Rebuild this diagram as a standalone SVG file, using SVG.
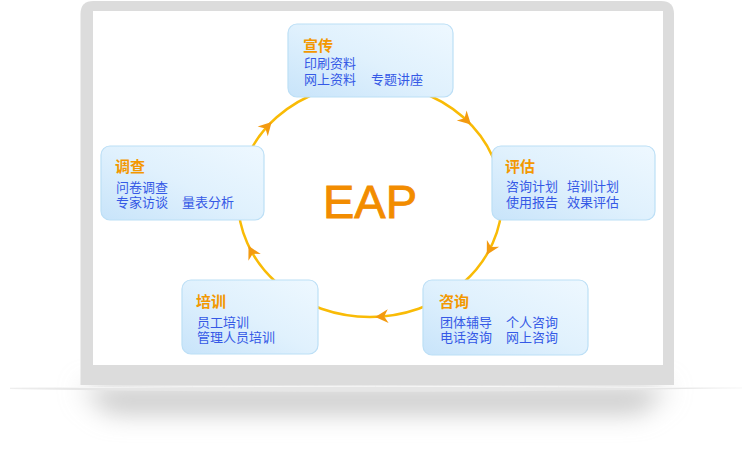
<svg xmlns="http://www.w3.org/2000/svg" width="751" height="462" viewBox="0 0 751 462">
<style>
.box{fill:url(#boxg);stroke:#bcdff6;stroke-width:1.2}
.t{font-family:"Noto Sans CJK SC","Noto Sans",sans-serif;font-size:15px;font-weight:bold;fill:#f39800}
.b{font-family:"Noto Sans CJK SC","Noto Sans",sans-serif;font-size:13px;fill:#3559e6}
.ring{fill:none;stroke:#f9bb06;stroke-width:2.5}
.ah{fill:#f39a10}
</style>
<defs>
<linearGradient id="boxg" x1="1" y1="0" x2="0" y2="1">
<stop offset="0" stop-color="#eef8ff"/>
<stop offset="0.5" stop-color="#e0f1fd"/>
<stop offset="1" stop-color="#c8e4fa"/>
</linearGradient>
<filter id="blur" x="-20%" y="-150%" width="140%" height="400%">
<feGaussianBlur stdDeviation="13"/>
</filter>
<path id="arrow" d="M4,0 L-9,-7 L-5,0 L-9,7 Z"/>
</defs>

<g id="laptop">
<path d="M80,388 L670,388 L640,412 L110,412 Z" fill="#c2c2c2" filter="url(#blur)"/>
<path d="M10,388 Q375,383 742,388 Q375,395 10,389 Z" fill="#e6e6e6"/>
<path d="M10,388 Q375,384.5 742,388" fill="none" stroke="#f7f7f7" stroke-width="1"/>
<path d="M80.5,385 L80.5,14 Q80.5,1 93.5,1 L661,1 Q674,1 674,14 L674,385 Z" fill="#dcdcdc"/>
<rect x="93" y="11" width="570" height="354" fill="#ffffff"/>
</g>

<g id="connectors">
<ellipse class="ring" cx="370" cy="200" rx="132" ry="117"/>
<use href="#arrow" class="ah" transform="translate(268.9,124.8) rotate(-46.5)"/>
<use href="#arrow" class="ah" transform="translate(468.1,121.7) rotate(44.5)"/>
<use href="#arrow" class="ah" transform="translate(488.7,251.3) rotate(118.8)"/>
<use href="#arrow" class="ah" transform="translate(379.2,316.7) rotate(176.4)"/>
<use href="#arrow" class="ah" transform="translate(250.4,249.4) rotate(-117.8)"/>
</g>

<g id="eap">
<text x="370" y="218" text-anchor="middle" font-family="Liberation Sans, Arial, sans-serif" font-size="47" fill="#f28c00" stroke="#f28c00" stroke-width="0.9">EAP</text>
</g>

<g id="node-xuanchuan">
<rect class="box" x="288" y="24" width="165" height="73" rx="9"/>
<text class="t" x="303" y="51">宣传</text>
<text class="b" x="304" y="68">印刷资料</text>
<text class="b" x="304" y="84">网上资料</text>
<text class="b" x="371" y="84">专题讲座</text>
</g>

<g id="node-pinggu">
<rect class="box" x="492" y="146" width="163" height="74" rx="9"/>
<text class="t" x="505" y="172">评估</text>
<text class="b" x="506" y="191">咨询计划</text>
<text class="b" x="567" y="191">培训计划</text>
<text class="b" x="506" y="207">使用报告</text>
<text class="b" x="567" y="207">效果评估</text>
</g>

<g id="node-zixun">
<rect class="box" x="423" y="280" width="165" height="75" rx="9"/>
<text class="t" x="439" y="307">咨询</text>
<text class="b" x="440" y="327">团体辅导</text>
<text class="b" x="506" y="327">个人咨询</text>
<text class="b" x="440" y="342">电话咨询</text>
<text class="b" x="506" y="342">网上咨询</text>
</g>

<g id="node-peixun">
<rect class="box" x="182" y="280" width="136" height="74" rx="9"/>
<text class="t" x="196" y="307">培训</text>
<text class="b" x="197" y="326.5">员工培训</text>
<text class="b" x="197" y="342">管理人员培训</text>
</g>

<g id="node-diaocha">
<rect class="box" x="101" y="146" width="163" height="74" rx="9"/>
<text class="t" x="115" y="172">调查</text>
<text class="b" x="116" y="191.5">问卷调查</text>
<text class="b" x="116" y="206.5">专家访谈</text>
<text class="b" x="182" y="206.5">量表分析</text>
</g>
</svg>
